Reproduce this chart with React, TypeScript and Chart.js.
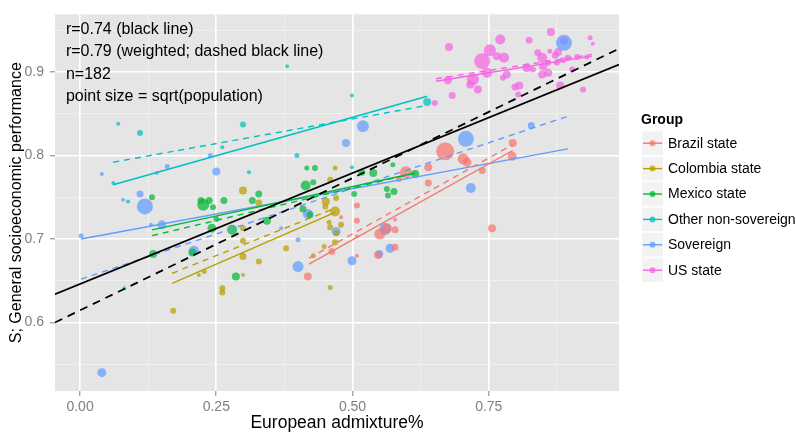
import React, { useEffect, useRef } from "react";
import { Chart, registerables } from "chart.js";

Chart.register(...registerables);

const FONT = "'Liberation Sans', Arial, Helvetica, sans-serif";

const groupNames = [
  "Brazil state",
  "Colombia state",
  "Mexico state",
  "Other non-sovereign",
  "Sovereign",
  "US state",
];
const groupColors = ["#F8766D", "#B79F00", "#00BA38", "#00BFC4", "#619CFF", "#F564E3"];

// Each unit: [European admixture, S score, sqrt(population) weight]
type Unit = [number, number, number];

const brazilState: Unit[] = [
  [0.670, 0.805, 9], [0.703, 0.796, 5.5], [0.710, 0.792, 4.5], [0.794, 0.815, 4],
  [0.793, 0.799, 4.5], [0.738, 0.782, 3.5], [0.639, 0.786, 4], [0.639, 0.767, 3.5],
  [0.598, 0.780, 6], [0.585, 0.772, 3], [0.756, 0.713, 4], [0.578, 0.723, 2],
  [0.578, 0.711, 3.5], [0.563, 0.713, 5], [0.550, 0.706, 5.5], [0.578, 0.690, 3.5],
  [0.547, 0.681, 4], [0.508, 0.722, 3], [0.508, 0.703, 2], [0.508, 0.680, 2],
  [0.462, 0.685, 3.5], [0.418, 0.655, 4], [0.508, 0.740, 3], [0.479, 0.726, 2],
];

const colombiaState: Unit[] = [
  [0.299, 0.758, 4], [0.328, 0.743, 3.5], [0.468, 0.785, 2.5], [0.459, 0.771, 3],
  [0.451, 0.745, 4], [0.470, 0.749, 3], [0.468, 0.733, 5], [0.450, 0.739, 3],
  [0.299, 0.713, 3], [0.459, 0.714, 3], [0.299, 0.698, 3], [0.299, 0.679, 3.5],
  [0.328, 0.673, 3], [0.378, 0.689, 3], [0.299, 0.657, 2], [0.261, 0.641, 3],
  [0.261, 0.636, 3], [0.428, 0.680, 2.5], [0.448, 0.691, 2.5], [0.468, 0.696, 3],
  [0.457, 0.720, 2.5], [0.479, 0.717, 3], [0.459, 0.642, 2.5], [0.470, 0.707, 3],
  [0.171, 0.614, 3], [0.218, 0.657, 2], [0.228, 0.661, 2.5],
];

const mexicoState: Unit[] = [
  [0.132, 0.750, 3], [0.226, 0.741, 6], [0.222, 0.746, 3.5], [0.237, 0.746, 3.5],
  [0.244, 0.738, 3], [0.264, 0.746, 3.5], [0.316, 0.746, 3.5], [0.328, 0.754, 3.5],
  [0.242, 0.713, 4.5], [0.279, 0.711, 5], [0.250, 0.724, 3], [0.416, 0.785, 2.5],
  [0.431, 0.785, 3], [0.414, 0.764, 5], [0.428, 0.768, 3], [0.409, 0.736, 3.5],
  [0.422, 0.729, 3.5], [0.343, 0.722, 4], [0.517, 0.780, 3.5], [0.538, 0.779, 4],
  [0.503, 0.754, 3], [0.574, 0.789, 2.5], [0.615, 0.778, 4], [0.563, 0.760, 3],
  [0.576, 0.757, 3.5], [0.565, 0.752, 3], [0.134, 0.682, 4], [0.206, 0.684, 4],
  [0.286, 0.655, 4],
];

const otherNonSovereign: Unit[] = [
  [0.380, 0.907, 2], [0.070, 0.838, 2], [0.110, 0.827, 3], [0.299, 0.837, 3],
  [0.261, 0.810, 2], [0.310, 0.780, 2], [0.398, 0.800, 2.5], [0.088, 0.745, 2],
  [0.061, 0.767, 2], [0.499, 0.786, 2], [0.637, 0.864, 4], [0.499, 0.872, 2],
  [0.081, 0.641, 2],
];

const sovereign: Unit[] = [
  [0.888, 0.935, 8], [0.828, 0.836, 3.5], [0.708, 0.820, 8], [0.519, 0.835, 6],
  [0.488, 0.815, 4], [0.717, 0.761, 5], [0.560, 0.712, 6], [0.569, 0.689, 4.5],
  [0.549, 0.682, 4], [0.499, 0.674, 4.5], [0.400, 0.667, 5.5], [0.470, 0.709, 4.5],
  [0.400, 0.699, 2.5], [0.369, 0.713, 2], [0.418, 0.730, 5], [0.250, 0.781, 4],
  [0.239, 0.800, 2.5], [0.040, 0.778, 2], [0.110, 0.754, 3.5], [0.079, 0.747, 2],
  [0.119, 0.739, 8], [0.150, 0.717, 4.5], [0.130, 0.717, 2], [0.002, 0.704, 2.5],
  [0.141, 0.779, 2], [0.160, 0.787, 2.5], [0.209, 0.686, 5], [0.040, 0.540, 4.5],
];

const usState: Unit[] = [
  [0.677, 0.930, 4], [0.771, 0.939, 5], [0.824, 0.938, 3.5], [0.864, 0.948, 4],
  [0.936, 0.941, 2.5], [0.941, 0.934, 2], [0.888, 0.937, 4], [0.752, 0.926, 6],
  [0.738, 0.913, 8], [0.765, 0.919, 4], [0.778, 0.917, 5], [0.747, 0.899, 5],
  [0.721, 0.891, 6], [0.716, 0.885, 4], [0.730, 0.879, 4], [0.675, 0.890, 4],
  [0.683, 0.872, 3.5], [0.651, 0.863, 3], [0.783, 0.897, 4], [0.776, 0.893, 3],
  [0.798, 0.882, 3.5], [0.806, 0.884, 4], [0.804, 0.873, 3], [0.820, 0.905, 4.5],
  [0.840, 0.923, 3.5], [0.848, 0.917, 5], [0.850, 0.907, 4], [0.859, 0.899, 4],
  [0.862, 0.925, 2.5], [0.872, 0.920, 3.5], [0.877, 0.924, 4], [0.886, 0.914, 3],
  [0.895, 0.917, 3], [0.903, 0.903, 3], [0.881, 0.884, 4], [0.923, 0.879, 3],
  [0.848, 0.897, 4], [0.859, 0.911, 3], [0.875, 0.911, 3], [0.912, 0.918, 3],
  [0.930, 0.918, 2.5], [0.831, 0.903, 3],
];

const groupUnits = [brazilState, colombiaState, mexicoState, otherNonSovereign, sovereign, usState];

// Per-group fits as [x0, y0, x1, y1]: ordinary (solid) and population-weighted (dashed)
const groupFits = [
  [0.420, 0.670, 0.794, 0.806],
  [0.169, 0.647, 0.468, 0.732],
  [0.132, 0.711, 0.615, 0.779],
  [0.061, 0.765, 0.637, 0.871],
  [0.002, 0.700, 0.895, 0.808],
  [0.653, 0.889, 0.939, 0.919],
];
const groupFitsWeighted = [
  [0.420, 0.677, 0.794, 0.813],
  [0.169, 0.659, 0.468, 0.737],
  [0.132, 0.704, 0.615, 0.779],
  [0.061, 0.792, 0.637, 0.860],
  [0.002, 0.652, 0.895, 0.847],
  [0.653, 0.892, 0.939, 0.921],
];

// Fits over all 182 units
const overallFit = [-0.046, 0.634, 0.989, 0.909];
const overallFitWeighted = [-0.046, 0.600, 0.989, 0.928];

const noteLines = [
  "r=0.74 (black line)",
  "r=0.79 (weighted; dashed black line)",
  "n=182",
  "point size = sqrt(population)",
];
const noteX = -0.026;
const noteY = [0.951, 0.924, 0.897, 0.870];

const xLimits = [-0.046, 0.989];
const yLimits = [0.518, 0.969];
const xMajorTicks = [0, 0.25, 0.5, 0.75];
const xTickLabels = ["0.00", "0.25", "0.50", "0.75"];
const xMinorTicks = [0.125, 0.375, 0.625, 0.875];
const yMajorTicks = [0.6, 0.7, 0.8, 0.9];
const yTickLabels = ["0.6", "0.7", "0.8", "0.9"];
const yMinorTicks = [0.55, 0.65, 0.75, 0.85, 0.95];

const PANEL_BG = "#E5E5E5";
const MINOR_GRID = "#F2F2F2";
const AXIS_GREY = "#7F7F7F";

function rgba(hex: string, a: number) {
  const n = parseInt(hex.slice(1), 16);
  return `rgba(${(n >> 16) & 255},${(n >> 8) & 255},${n & 255},${a})`;
}

function majorIndex(list: number[], v: number) {
  return list.findIndex((m) => Math.abs(m - v) < 1e-9);
}

function lineData(f: number[]) {
  return [
    { x: f[0], y: f[1] },
    { x: f[2], y: f[3] },
  ];
}

const panelBackground = {
  id: "panelBackground",
  beforeDraw(chart: any) {
    const { ctx, chartArea } = chart;
    ctx.save();
    ctx.fillStyle = "#FFFFFF";
    ctx.fillRect(0, 0, chart.width, chart.height);
    ctx.fillStyle = PANEL_BG;
    ctx.fillRect(chartArea.left, chartArea.top, chartArea.right - chartArea.left, chartArea.bottom - chartArea.top);
    ctx.restore();
  },
};

const notes = {
  id: "notes",
  afterDatasetsDraw(chart: any) {
    const { ctx, scales } = chart;
    ctx.save();
    ctx.font = `16px ${FONT}`;
    ctx.fillStyle = "#000";
    ctx.textAlign = "left";
    ctx.textBaseline = "middle";
    const x = scales.x.getPixelForValue(noteX);
    noteLines.forEach((t, i) => ctx.fillText(t, x, scales.y.getPixelForValue(noteY[i])));
    ctx.restore();
  },
};

const groupLegend = {
  id: "groupLegend",
  afterDraw(chart: any) {
    const { ctx, chartArea } = chart;
    const left = chartArea.right + 22;
    const keyW = 23;
    const keyH = 25.4;
    const top0 = 130.5;
    ctx.save();
    ctx.textAlign = "left";
    ctx.textBaseline = "middle";
    ctx.fillStyle = "#000";
    ctx.font = `bold 14px ${FONT}`;
    ctx.fillText("Group", left, 120);
    ctx.font = `14px ${FONT}`;
    groupNames.forEach((name, i) => {
      const top = top0 + i * keyH;
      const cy = top + keyH / 2;
      ctx.fillStyle = MINOR_GRID;
      ctx.fillRect(left, top, keyW, keyH);
      ctx.strokeStyle = "#FFFFFF";
      ctx.lineWidth = 1;
      ctx.strokeRect(left + 0.5, top + 0.5, keyW - 1, keyH - 1);
      ctx.strokeStyle = groupColors[i];
      ctx.lineWidth = 1.4;
      ctx.beginPath();
      ctx.moveTo(left + 2, cy);
      ctx.lineTo(left + keyW - 2, cy);
      ctx.stroke();
      ctx.fillStyle = rgba(groupColors[i], 0.75);
      ctx.beginPath();
      ctx.arc(left + keyW / 2, cy, 3, 0, Math.PI * 2);
      ctx.fill();
      ctx.fillStyle = "#000";
      ctx.fillText(name, left + 27, cy + 0.5);
    });
    ctx.restore();
  },
};

function axisGrid(majors: number[]) {
  return {
    drawTicks: true,
    tickLength: 5,
    tickWidth: 1,
    color: (c: any) => (majorIndex(majors, c.tick?.value) >= 0 ? "#FFFFFF" : MINOR_GRID),
    lineWidth: (c: any) => (majorIndex(majors, c.tick?.value) >= 0 ? 1.6 : 0.8),
    tickColor: (c: any) => (majorIndex(majors, c.tick?.value) >= 0 ? AXIS_GREY : "rgba(0,0,0,0)"),
  };
}

export default function App() {
  const canvasRef = useRef<HTMLCanvasElement | null>(null);

  useEffect(() => {
    if (!canvasRef.current) return;

    const datasets: any[] = [];
    groupUnits.forEach((units, i) => {
      datasets.push({
        type: "scatter",
        label: groupNames[i],
        data: units.map(([x, y, w]) => ({ x, y, w })),
        backgroundColor: rgba(groupColors[i], 0.72),
        borderWidth: 0,
        pointRadius: (c: any) => (c.raw ? c.raw.w : 0),
        order: 3,
      });
    });
    groupFits.forEach((f, i) => {
      datasets.push({
        type: "line",
        data: lineData(f),
        borderColor: groupColors[i],
        borderWidth: 1.4,
        pointRadius: 0,
        fill: false,
        order: 2,
      });
      datasets.push({
        type: "line",
        data: lineData(groupFitsWeighted[i]),
        borderColor: groupColors[i],
        borderWidth: 1.4,
        borderDash: [6, 5],
        pointRadius: 0,
        fill: false,
        order: 2,
      });
    });
    datasets.push({
      type: "line",
      data: lineData(overallFit),
      borderColor: "#000000",
      borderWidth: 1.8,
      pointRadius: 0,
      fill: false,
      order: 1,
    });
    datasets.push({
      type: "line",
      data: lineData(overallFitWeighted),
      borderColor: "#000000",
      borderWidth: 1.8,
      borderDash: [8, 6],
      pointRadius: 0,
      fill: false,
      order: 1,
    });

    const chart = new Chart(canvasRef.current, {
      type: "scatter",
      data: { datasets },
      plugins: [panelBackground, notes, groupLegend],
      options: {
        responsive: false,
        animation: false,
        devicePixelRatio: 1,
        events: [],
        layout: { padding: { top: 5, right: 177, left: 0, bottom: 0 } },
        plugins: {
          legend: { display: false },
          tooltip: { enabled: false },
        },
        scales: {
          x: {
            type: "linear",
            min: xLimits[0],
            max: xLimits[1],
            afterBuildTicks: (s: any) => {
              s.ticks = [...xMajorTicks, ...xMinorTicks].sort((a, b) => a - b).map((value) => ({ value }));
            },
            afterFit: (s: any) => {
              s.height = 45;
            },
            border: { display: false },
            grid: axisGrid(xMajorTicks) as any,
            ticks: {
              autoSkip: false,
              maxRotation: 0,
              padding: 3,
              color: AXIS_GREY,
              font: { family: FONT, size: 14 },
              callback: (v: any) => {
                const k = majorIndex(xMajorTicks, Number(v));
                return k >= 0 ? xTickLabels[k] : "";
              },
            },
            title: {
              display: true,
              text: "European admixture%",
              color: "#000",
              font: { family: FONT, size: 17.5 },
              padding: { top: 0, bottom: 2 },
            },
          },
          y: {
            type: "linear",
            min: yLimits[0],
            max: yLimits[1],
            afterBuildTicks: (s: any) => {
              s.ticks = [...yMajorTicks, ...yMinorTicks].sort((a, b) => a - b).map((value) => ({ value }));
            },
            afterFit: (s: any) => {
              s.width = 55;
            },
            border: { display: false },
            grid: axisGrid(yMajorTicks) as any,
            ticks: {
              autoSkip: false,
              padding: 6,
              color: AXIS_GREY,
              font: { family: FONT, size: 14 },
              callback: (v: any) => {
                const k = majorIndex(yMajorTicks, Number(v));
                return k >= 0 ? yTickLabels[k] : "";
              },
            },
            title: {
              display: true,
              text: "S; General socioeconomic performance",
              color: "#000",
              font: { family: FONT, size: 16 },
              padding: { top: 7, bottom: 0 },
            },
          },
        },
      } as any,
    });

    return () => chart.destroy();
  }, []);

  return (
    <div style={{ position: "fixed", left: 0, top: 0, width: 796, height: 436, background: "#fff" }}>
      <canvas ref={canvasRef} width={796} height={436} />
    </div>
  );
}
